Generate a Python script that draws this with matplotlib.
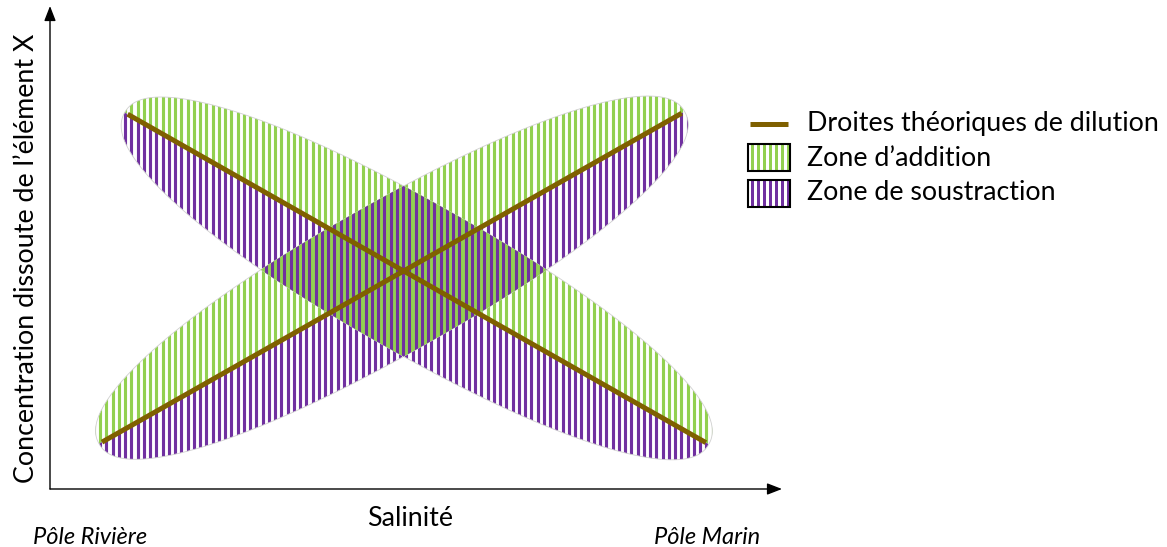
import numpy as np
import matplotlib
matplotlib.use("Agg")
import matplotlib.pyplot as plt
from matplotlib.patches import Polygon, Rectangle

W, H, DPI = 1167, 547, 100

# Theoretical dilution lines, in axis units (salinity 0-100, concentration 0-100)
line_down_x = [10.6, 89.6]
line_down_y = [77.6, 9.6]
line_up_x = [7.1, 86.3]
line_up_y = [9.7, 77.8]

legend_labels = ["Droites théoriques de dilution", "Zone d’addition", "Zone de soustraction"]
x_label = "Salinité"
y_label = "Concentration dissoute de l’élément X"
pole_labels = ["Pôle Rivière", "Pôle Marin"]

# layout (figure pixels, origin top-left)
AX_L, AX_B, AX_R, AX_T = 50, 489, 782, 6
GREEN = "#92D050"
PURPLE = "#7030A0"
BROWN = "#7F6000"
STRIPE_PERIOD = 6.25   # px
STRIPE_W = 3.1         # px
LOBE_B = 74.5          # px, semi-minor axis of each zone
LOBE_STRETCH = 1.01
LOBE_P = 2.2           # superellipse exponent (flatter sides than an ellipse)
FONT = "Lato"

SX = (AX_R - AX_L) / 100.0
SY = (AX_B - AX_T) / 100.0
PT = 72.0 / DPI


def lobe(xs, ys, n=600):
    """Rounded zone around a dilution line, split along the line (upper, lower, full)."""
    p0 = np.array([xs[0] * SX, ys[0] * SY])
    p1 = np.array([xs[1] * SX, ys[1] * SY])
    c = (p0 + p1) / 2
    d = (p1 - p0) / 2
    a = np.linalg.norm(d) * LOBE_STRETCH
    u = d / np.linalg.norm(d)
    v = np.array([-u[1], u[0]])
    t = np.linspace(0, 2 * np.pi, n, endpoint=False)
    e = 2.0 / LOBE_P
    ct = np.sign(np.cos(t)) * np.abs(np.cos(t)) ** e
    st = np.sign(np.sin(t)) * np.abs(np.sin(t)) ** e
    pts = c + np.outer(a * ct, u) + np.outer(LOBE_B * st, v)
    pts = pts / [SX, SY]
    half = n // 2
    upper = pts[: half + 1]
    lower = np.vstack([pts[half:], pts[:1]])
    return upper, lower, pts


def clip_convex(subject, clipper):
    """Sutherland-Hodgman: intersection of two convex CCW polygons."""
    out = list(map(tuple, subject))
    m = len(clipper)
    for i in range(m):
        a, b = clipper[i], clipper[(i + 1) % m]
        inp, out = out, []
        if not inp:
            break

        def inside(p):
            return (b[0] - a[0]) * (p[1] - a[1]) - (b[1] - a[1]) * (p[0] - a[0]) >= 0

        def cross(p, q):
            x1, y1, x2, y2 = p[0], p[1], q[0], q[1]
            x3, y3, x4, y4 = a[0], a[1], b[0], b[1]
            den = (x1 - x2) * (y3 - y4) - (y1 - y2) * (x3 - x4)
            tt = ((x1 - x3) * (y3 - y4) - (y1 - y3) * (x3 - x4)) / den
            return (x1 + tt * (x2 - x1), y1 + tt * (y2 - y1))

        s = inp[-1]
        for e in inp:
            if inside(e):
                if not inside(s):
                    out.append(cross(s, e))
                out.append(e)
            elif inside(s):
                out.append(cross(s, e))
            s = e
    return np.array(out)


def stripes(ax, poly, color, x0=0.0, x1=100.0, z=1):
    clip = Polygon(poly, closed=True, transform=ax.transData)
    xs = np.arange(x0, x1, STRIPE_PERIOD / SX)
    lc = ax.vlines(xs, 0, 100, colors=color, lw=STRIPE_W * PT, zorder=z)
    lc.set_clip_path(clip)


fig = plt.figure(figsize=(W / DPI, H / DPI), dpi=DPI)
ax = fig.add_axes([AX_L / W, 1 - AX_B / H, (AX_R - AX_L) / W, (AX_B - AX_T) / H])
ax.set_xlim(0, 100)
ax.set_ylim(0, 100)
ax.axis("off")

up_d, lo_d, full_d = lobe(line_down_x, line_down_y)
up_u, lo_u, full_u = lobe(line_up_x, line_up_y)

for up, lo, full in [(up_d, lo_d, full_d), (up_u, lo_u, full_u)]:
    stripes(ax, up, GREEN)
    stripes(ax, lo, PURPLE)
    ax.add_patch(Polygon(full, closed=True, fc="none", ec="#d0d0d0", lw=0.6, zorder=1.5))

# overlap of both zones
overlap = clip_convex(full_d, full_u)
ax.add_patch(Polygon(overlap, closed=True, fc=GREEN, ec="none", zorder=2))
stripes(ax, overlap, PURPLE, x0=STRIPE_PERIOD / SX / 2, z=2.1)

ax.plot(line_down_x, line_down_y, color=BROWN, lw=5 * PT, solid_capstyle="butt", zorder=3)
ax.plot(line_up_x, line_up_y, color=BROWN, lw=5 * PT, solid_capstyle="butt", zorder=3)

# overlay in figure pixels for arrows, texts and the legend
ov = fig.add_axes([0, 0, 1, 1], zorder=5)
ov.set_xlim(0, W)
ov.set_ylim(H, 0)
ov.axis("off")
ov.patch.set_alpha(0)

arrow = dict(arrowstyle="-|>,head_length=0.9,head_width=0.35", color="black", lw=1.0,
             shrinkA=0, shrinkB=0)
ov.annotate("", xy=(AX_L, AX_T), xytext=(AX_L, AX_B), arrowprops=arrow)
ov.annotate("", xy=(AX_R, AX_B), xytext=(AX_L, AX_B), arrowprops=arrow)

fs = 19.3
ov.text(27, 258, y_label, rotation=90, ha="center", va="center", fontsize=fs, family=FONT)
ov.text(410, 518, x_label, ha="center", va="center", fontsize=fs, family=FONT)
ov.text(33, 537, pole_labels[0], ha="left", va="center", fontsize=17, family=FONT,
        style="italic")
ov.text(760, 537, pole_labels[1], ha="right", va="center", fontsize=17, family=FONT,
        style="italic")

# legend
ov.plot([750, 788], [124, 124], color=BROWN, lw=5 * PT, solid_capstyle="butt")
for (top, color) in [(144, GREEN), (180, PURPLE)]:
    bx0, bx1, h = 748, 790, 27
    for sx in np.arange(bx0 + 3, bx1 - 1, 6.0):
        ov.add_patch(Rectangle((sx, top), STRIPE_W, h, fc=color, ec="none"))
    ov.add_patch(Rectangle((bx0, top), bx1 - bx0, h, fc="none", ec="black", lw=1.5))
for y, lab in zip([124, 158, 193], legend_labels):
    ov.text(807, y, lab, ha="left", va="center", fontsize=fs, family=FONT)

fig.savefig("out.png", dpi=DPI)
